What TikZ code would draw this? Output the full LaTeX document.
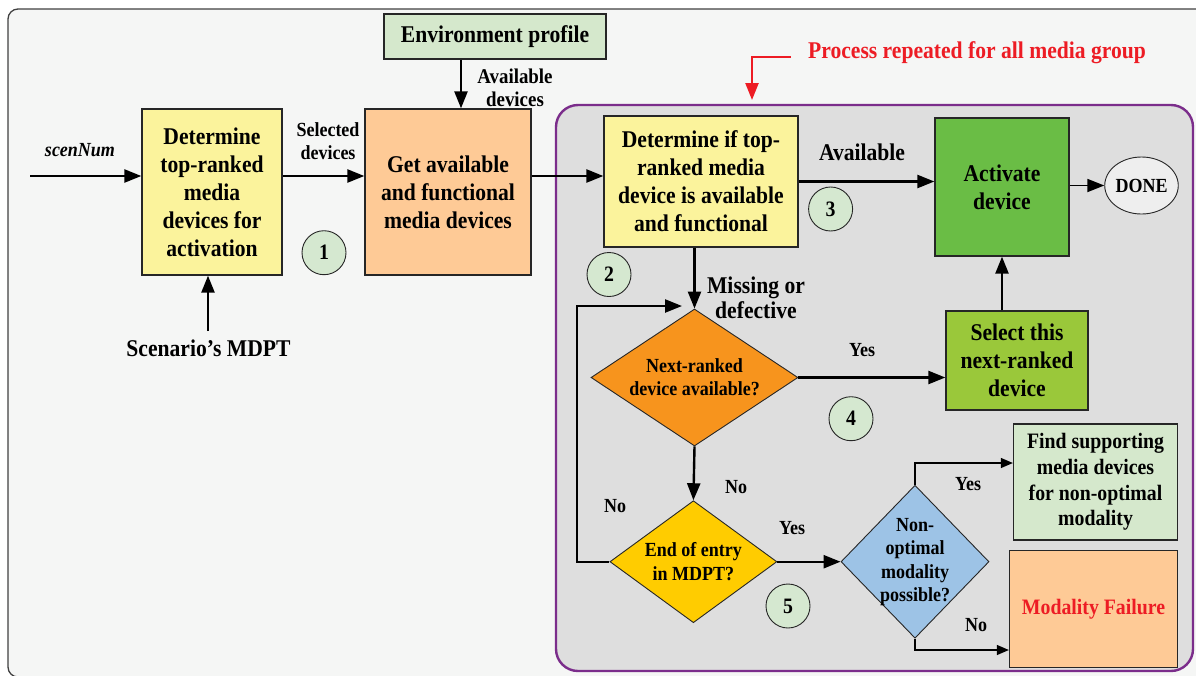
\documentclass[tikz,border=0pt]{standalone}
\usepackage{fontspec}
\setmainfont{Liberation Serif}[FakeStretch=0.9]
\usetikzlibrary{arrows.meta,shapes.geometric}

\definecolor{pale}{HTML}{F5F6F5}
\definecolor{procgray}{HTML}{DEDEDE}
\definecolor{procpurple}{HTML}{7B2D8B}
\definecolor{detyellow}{HTML}{FBF39C}
\definecolor{peach}{HTML}{FECA96}
\definecolor{palegreen}{HTML}{D5E8CC}
\definecolor{actgreen}{HTML}{6ABD45}
\definecolor{selgreen}{HTML}{9AC83A}
\definecolor{dorange}{HTML}{F7941D}
\definecolor{dyellow}{HTML}{FFCC00}
\definecolor{dblue}{HTML}{9DC3E6}
\definecolor{numgreen}{HTML}{D5E8D0}
\definecolor{donegray}{HTML}{EEEEEE}
\definecolor{repred}{HTML}{ED1C24}

\begin{document}
\begin{tikzpicture}[x=1pt,y=-1pt,
	every node/.style={align=center,font=\bfseries\fontsize{24}{28}\selectfont},
	box/.style={draw=black!85,line width=1.3pt,inner sep=0pt},
	dia/.style={diamond,draw=black!85,line width=0.9pt,inner sep=0pt},
	dtxt/.style={font=\bfseries\fontsize{20}{23.3}\selectfont},
	lbl/.style={font=\bfseries\fontsize{20}{23}\selectfont},
	yn/.style={font=\bfseries\fontsize{20}{23}\selectfont},
	num/.style={circle,draw=black!85,line width=0.9pt,fill=numgreen,minimum size=44pt,inner sep=0pt,font=\bfseries\fontsize{22}{24}\selectfont},
	arr/.style={-{Triangle[length=17pt,width=13pt]},line width=2.4pt},
	thinarr/.style={-{Triangle[length=12pt,width=10pt]},line width=1.2pt}]
	\clip (0,0) rectangle (1196,675);
	\draw[fill=pale,draw=black!75,line width=1.3pt,rounded corners=10] (8,9) rectangle (1215,677);
	\draw[fill=procgray,draw=procpurple,line width=2.4pt,rounded corners=22] (556,105) rectangle (1193,671);

	\node[box,fill=detyellow,minimum width=140,minimum height=166] (topdev) at (212,192) {Determine\\top-ranked\\media\\devices for\\activation};
	\node[box,fill=peach,minimum width=166,minimum height=166] (getdev) at (448,192) {Get available\\and functional\\media devices};
	\node[box,fill=palegreen,minimum width=222,minimum height=45] (env) at (495,36.5) {Environment profile};
	\node[lbl,font=\bfseries\fontsize{21}{22.6}\selectfont] (avail) at (515,88) {Available\\devices};
	\node[lbl] (seldev) at (328,141.5) {Selected\\devices};
	\node[lbl,font=\bfseries\itshape\fontsize{20}{23}\selectfont] (scen) at (80,150) {scenNum};
	\node (mdpt) at (208.5,348) {Scenario’s MDPT};
	\node[text=repred] (rep) at (977,53) {Process repeated for all media group};

	\node[box,fill=detyellow,minimum width=194,minimum height=131] (chk) at (701,181.5) {Determine if top-\\ranked media\\device is available\\and functional};
	\node[box,fill=actgreen,minimum width=134,minimum height=138] (act) at (1002,187) {Activate\\device};
	\node[ellipse,draw=black!85,line width=0.9pt,fill=donegray,minimum width=73,minimum height=57,inner sep=0pt,font=\bfseries\fontsize{20}{23}\selectfont] (done) at (1141.5,185.5) {DONE};
	\node[box,fill=selgreen,minimum width=142,minimum height=99] (selnext) at (1017,360.5) {Select this\\next-ranked\\device};
	\node[dia,fill=dorange,minimum width=207,minimum height=137] (nextdev) at (694.5,377.5) {};
	\node[dtxt] (nextdevtxt) at (694.5,377) {Next-ranked\\device available?};
	\node[dia,fill=dyellow,minimum width=167,minimum height=122] (endmdpt) at (693.4,561.7) {};
	\node[dtxt] (endmdpttxt) at (693.4,561.5) {End of entry\\in MDPT?};
	\node[dia,fill=dblue,minimum width=148,minimum height=153] (nonopt) at (915,561.7) {};
	\node[dtxt] (nonopttxt) at (915,562) {Non-\\optimal\\modality\\possible?};
	\node[box,fill=palegreen,minimum width=164,minimum height=116,font=\bfseries\fontsize{22}{25.7}\selectfont] (findsup) at (1095.5,482) {Find supporting\\media devices\\for non-optimal\\modality};
	\node[box,fill=peach,minimum width=168,minimum height=117,text=repred,font=\bfseries\fontsize{22}{25}\selectfont] (fail) at (1093.5,609) {Modality Failure};

	\node[num] (n1) at (324,252.7) {1};
	\node[num] (n2) at (609,274.5) {2};
	\node[num] (n3) at (830.6,209) {3};
	\node[num] (n4) at (851,418.7) {4};
	\node[num] (n5) at (788,606) {5};

	\node (availlbl) at (862,152) {Available};
	\node[font=\bfseries\fontsize{24}{25}\selectfont] (missing) at (756,297.5) {Missing or\\defective};
	\node[yn] (yes1) at (862,350) {Yes};
	\node[yn] (no1) at (736,487) {No};
	\node[yn] (no2) at (615,506) {No};
	\node[yn] (yes2) at (792,528) {Yes};
	\node[yn] (yes3) at (968,484) {Yes};
	\node[yn] (no3) at (976,625) {No};

	\coordinate (scenin) at (30,176);
	\coordinate (mdptup) at (208,331);
	\coordinate (envx) at (461,0);
	\coordinate (loopx) at (577,0);
	\coordinate (loopend) at (682,306);
	\coordinate (redtip) at (752,100);
	\path (findsup.west) ++(0,-19) coordinate (yesend);
	\path (fail.west) ++(0,41) coordinate (noend);

	\draw[arr] (scenin) -- (scenin -| topdev.west);
	\draw[arr] (mdptup) -- (mdptup |- topdev.south);
	\draw[arr] (topdev.east |- scenin) -- (getdev.west |- scenin);
	\draw[arr] (env.south -| envx) -- (getdev.north -| envx);
	\draw[arr] (getdev.east |- scenin) -- (chk.west |- scenin);
	\draw[arr] (chk.east) -- (chk.east -| act.west);
	\draw[arr,line width=1.8pt] (act.east |- done) -- (done.west);
	\draw[arr] (chk.south -| nextdev) -- (nextdev.north);
	\draw[arr] (nextdev.east) -- (nextdev.east -| selnext.west);
	\draw[arr] (selnext.north -| act) -- (act.south);
	\draw[arr] (nextdev.south) -- (endmdpt.north);
	\draw[arr] (endmdpt.west) -- (endmdpt.west -| loopx) |- (loopend);
	\draw[arr] (endmdpt.east) -- (nonopt.west);
	\draw[thinarr] (nonopt.north) |- (yesend);
	\draw[thinarr] (nonopt.south) |- (noend);
	\draw[arr,draw=repred] ([shift={(-14,4)}]rep.west) -| (redtip);
\end{tikzpicture}
\end{document}
